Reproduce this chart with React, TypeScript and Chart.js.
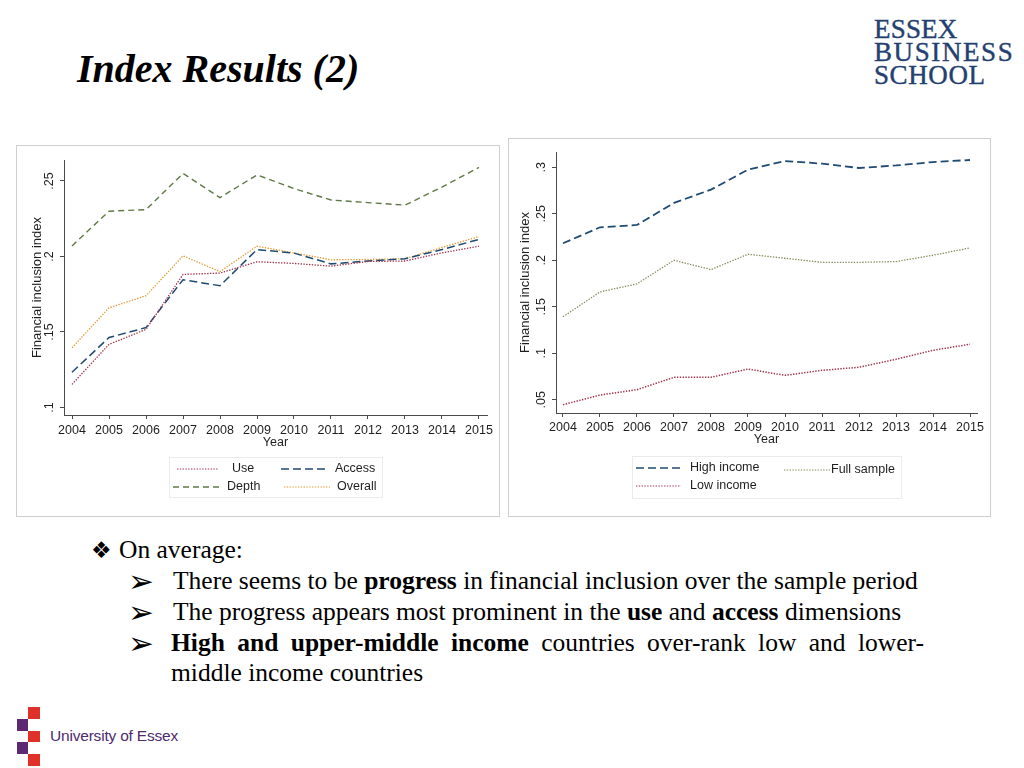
import React, { useEffect, useRef } from "react";
import { Chart, registerables } from "chart.js";

Chart.register(...registerables);

// ---------- DATA ----------
const years = [2004, 2005, 2006, 2007, 2008, 2009, 2010, 2011, 2012, 2013, 2014, 2015];

// Left chart: dimensions
const useIdx = [0.1153, 0.1418, 0.1517, 0.1881, 0.189, 0.1965, 0.1954, 0.1936, 0.1967, 0.197, 0.2024, 0.2068];
const accessIdx = [0.1233, 0.1463, 0.1529, 0.1846, 0.1806, 0.2046, 0.2022, 0.1951, 0.197, 0.1985, 0.2046, 0.2113];
const depthIdx = [0.207, 0.23, 0.231, 0.255, 0.239, 0.254, 0.245, 0.2374, 0.2357, 0.234, 0.246, 0.259];
const overallIdx = [0.1395, 0.166, 0.174, 0.2004, 0.19, 0.2068, 0.2024, 0.1978, 0.198, 0.1985, 0.206, 0.2132];

// Right chart: income groups
const highIncome = [0.2183, 0.2355, 0.238, 0.2617, 0.276, 0.2975, 0.3068, 0.304, 0.2993, 0.302, 0.3057, 0.3079];
const lowIncome = [0.0446, 0.055, 0.0608, 0.0741, 0.0741, 0.083, 0.0762, 0.0816, 0.0849, 0.0935, 0.1032, 0.1097];
const fullSample = [0.1392, 0.166, 0.1746, 0.2, 0.19, 0.2065, 0.2022, 0.1978, 0.1978, 0.1986, 0.2054, 0.2133];

const leftYTicks = [0.1, 0.15, 0.2, 0.25];
const leftYTickLabels = [".1", ".15", ".2", ".25"];
const rightYTicks = [0.05, 0.1, 0.15, 0.2, 0.25, 0.3];
const rightYTickLabels = [".05", ".1", ".15", ".2", ".25", ".3"];
const xTickLabels = years.map(String);

const yTitle = "Financial inclusion index";
const xTitle = "Year";

// ---------- STYLES ----------
const SANS = '"Liberation Sans", Arial, sans-serif';
const SERIF = '"Liberation Serif", "Times New Roman", serif';

const C_MAROON = "#a0344c";
const C_NAVY = "#1f4a72";
const C_GREEN = "#5f7a45";
const C_ORANGE = "#e39a35";
const C_OLIVE = "#8a8a5c";

const DOT = [1.4, 1.4];
const LONGDASH = [8, 4];
const DASH = [6, 4];

type LegendItem = { label: string; color: string; dash: number[]; width: number; x1: number; x2: number; y: number; tx: number };

const stataDecor = {
  id: "stataDecor",
  afterDraw(chart: any, _args: any, opts: any) {
    const ctx: CanvasRenderingContext2D = chart.ctx;
    const ca = chart.chartArea;
    const xs = chart.scales.x;
    const ys = chart.scales.y;
    ctx.save();
    ctx.fillStyle = "#1e1e1e";
    ctx.font = `12.5px ${SANS}`;
    // y tick labels (rotated)
    (opts.yTicks as number[]).forEach((v, i) => {
      const y = ys.getPixelForValue(v);
      ctx.save();
      ctx.translate(ca.left - opts.yLabelOffset, y);
      ctx.rotate(-Math.PI / 2);
      ctx.textAlign = "center";
      ctx.textBaseline = "middle";
      ctx.fillText(opts.yLabels[i], 0, 0);
      ctx.restore();
    });
    // y title
    ctx.save();
    ctx.font = `13px ${SANS}`;
    ctx.translate(ca.left - opts.yTitleOffset, (ca.top + ca.bottom) / 2);
    ctx.rotate(-Math.PI / 2);
    ctx.textAlign = "center";
    ctx.textBaseline = "middle";
    ctx.fillText(yTitle, 0, 0);
    ctx.restore();
    // x tick labels
    ctx.textAlign = "center";
    ctx.textBaseline = "middle";
    years.forEach((yr, i) => {
      ctx.fillText(xTickLabels[i], xs.getPixelForValue(yr), ca.bottom + opts.xLabelOffset);
    });
    // x title
    ctx.font = `12.5px ${SANS}`;
    ctx.fillText(xTitle, (ca.left + ca.right) / 2, ca.bottom + opts.xTitleOffset);
    // legend
    const b = opts.legendBox;
    ctx.strokeStyle = "#ebebeb";
    ctx.lineWidth = 1;
    ctx.strokeRect(b.x + 0.5, b.y + 0.5, b.w, b.h);
    (opts.legendItems as LegendItem[]).forEach((it) => {
      ctx.save();
      ctx.strokeStyle = it.color;
      ctx.lineWidth = it.width;
      ctx.setLineDash(it.dash);
      ctx.beginPath();
      ctx.moveTo(it.x1, it.y);
      ctx.lineTo(it.x2, it.y);
      ctx.stroke();
      ctx.restore();
      ctx.fillStyle = "#1e1e1e";
      ctx.textAlign = "left";
      ctx.textBaseline = "middle";
      ctx.font = `12.5px ${SANS}`;
      ctx.fillText(it.label, it.tx, it.y);
    });
    ctx.restore();
  },
};

function makeDataset(label: string, values: number[], color: string, dash: number[], width: number) {
  return {
    label,
    data: years.map((x, i) => ({ x, y: values[i] })),
    borderColor: color,
    borderWidth: width,
    borderDash: dash,
    pointRadius: 0,
    tension: 0,
    fill: false,
  };
}

function axisCommon(ticks: number[]) {
  return {
    type: "linear" as const,
    afterBuildTicks: (s: any) => {
      s.ticks = ticks.map((v) => ({ value: v }));
    },
    ticks: { display: false },
    grid: { display: true, drawOnChartArea: false, drawTicks: true, tickLength: 4, color: "#4a4a4a", lineWidth: 1 },
    border: { display: true, color: "#4a4a4a", width: 1 },
  };
}

function ChartCanvas(props: {
  width: number;
  height: number;
  datasets: any[];
  xMin: number;
  xMax: number;
  yMin: number;
  yMax: number;
  yTicks: number[];
  yLabels: string[];
  padTop: number;
  padRight: number;
  yAxisWidth: number;
  xAxisHeight: number;
  decor: any;
}) {
  const ref = useRef<HTMLCanvasElement>(null);
  useEffect(() => {
    if (!ref.current) return;
    const chart = new Chart(ref.current, {
      type: "line",
      data: { datasets: props.datasets },
      options: {
        animation: false,
        responsive: false,
        maintainAspectRatio: false,
        layout: { padding: { top: props.padTop, right: props.padRight, left: 0, bottom: 0 } },
        plugins: {
          legend: { display: false },
          tooltip: { enabled: false },
          stataDecor: { ...props.decor, yTicks: props.yTicks, yLabels: props.yLabels },
        } as any,
        scales: {
          x: {
            ...axisCommon(years),
            min: props.xMin,
            max: props.xMax,
            afterFit: (s: any) => {
              s.height = props.xAxisHeight;
            },
          },
          y: {
            ...axisCommon(props.yTicks),
            min: props.yMin,
            max: props.yMax,
            afterFit: (s: any) => {
              s.width = props.yAxisWidth;
            },
          },
        } as any,
      },
      plugins: [stataDecor as any],
    });
    return () => chart.destroy();
  }, []);
  return <canvas ref={ref} width={props.width} height={props.height} style={{ display: "block" }} />;
}

const leftDatasets = [
  makeDataset("Use", useIdx, C_MAROON, DOT, 1.3),
  makeDataset("Access", accessIdx, C_NAVY, LONGDASH, 1.5),
  makeDataset("Depth", depthIdx, C_GREEN, DASH, 1.4),
  makeDataset("Overall", overallIdx, C_ORANGE, DOT, 1.3),
];

const rightDatasets = [
  makeDataset("High income", highIncome, C_NAVY, LONGDASH, 1.8),
  makeDataset("Low income", lowIncome, C_MAROON, DOT, 1.5),
  makeDataset("Full sample", fullSample, C_OLIVE, DOT, 1.3),
];

const leftDecor = {
  yLabelOffset: 14,
  yTitleOffset: 27,
  xLabelOffset: 15.5,
  xTitleOffset: 27.5,
  legendBox: { x: 153, y: 312, w: 213, h: 40 },
  legendItems: [
    { label: "Use", color: C_MAROON, dash: DOT, width: 1.2, x1: 161, x2: 203, y: 324, tx: 216 },
    { label: "Access", color: C_NAVY, dash: LONGDASH, width: 1.4, x1: 265, x2: 312, y: 324, tx: 319 },
    { label: "Depth", color: C_GREEN, dash: DASH, width: 1.3, x1: 157, x2: 203, y: 342, tx: 211 },
    { label: "Overall", color: C_ORANGE, dash: DOT, width: 1.2, x1: 268, x2: 314, y: 342, tx: 321 },
  ],
};

const rightDecor = {
  yLabelOffset: 14.5,
  yTitleOffset: 31,
  xLabelOffset: 15,
  xTitleOffset: 27,
  legendBox: { x: 124, y: 318, w: 269, h: 42 },
  legendItems: [
    { label: "High income", color: C_NAVY, dash: LONGDASH, width: 1.5, x1: 128, x2: 173, y: 330, tx: 182 },
    { label: "Full sample", color: C_OLIVE, dash: DOT, width: 1.2, x1: 276, x2: 322, y: 332, tx: 323 },
    { label: "Low income", color: C_MAROON, dash: DOT, width: 1.2, x1: 128, x2: 173, y: 348, tx: 182 },
  ],
};

const abs = (l: number, t: number, extra: React.CSSProperties = {}): React.CSSProperties => ({
  position: "absolute",
  left: l,
  top: t,
  ...extra,
});

export default function App() {
  const FS = 25.5;
  const bodyFont: React.CSSProperties = { fontFamily: SERIF, fontSize: FS, lineHeight: "30px", color: "#000", whiteSpace: "nowrap" };
  const bulletTop = (baseline: number) => baseline - (15 - (1.107 * FS) / 2 + 0.891 * FS);
  const sym: React.CSSProperties = { position: "absolute", fontFamily: '"DejaVu Sans", sans-serif', color: "#000", whiteSpace: "nowrap" };
  const arrow = (centerY: number) => ({ ...sym, left: 128, top: centerY - 20, fontSize: 31, lineHeight: "40px" });
  return (
    <div style={{ position: "absolute", left: 0, top: 0, width: 1024, height: 768, background: "#fff", overflow: "hidden" }}>
      {/* Title */}
      <div style={abs(77, 86 - 41, { fontFamily: SERIF, fontSize: 40, fontWeight: "bold", fontStyle: "italic", lineHeight: "48px", whiteSpace: "nowrap" })}>
        Index Results (2)
      </div>

      {/* Essex Business School logo */}
      <div style={abs(874, 18, { fontFamily: SERIF, fontSize: 27, lineHeight: "23px", color: "#243f70", whiteSpace: "nowrap", WebkitTextStroke: "0.4px #243f70" })}>
        <div style={{ letterSpacing: 0.2 }}>ESSEX</div>
        <div style={{ letterSpacing: 1.6 }}>BUSINESS</div>
        <div style={{ letterSpacing: 0.6 }}>SCHOOL</div>
      </div>

      {/* Left chart */}
      <div style={abs(16, 145, { width: 484, height: 372 })}>
        <ChartCanvas
          width={484}
          height={372}
          datasets={leftDatasets}
          xMin={2004 - 8 / 37}
          xMax={2015 + 8 / 37}
          yMin={0.095}
          yMax={0.2639}
          yTicks={leftYTicks}
          yLabels={leftYTickLabels}
          padTop={15}
          padRight={13}
          yAxisWidth={48}
          xAxisHeight={102}
          decor={leftDecor}
        />
      </div>
      <div style={abs(16, 145, { width: 484, height: 372, boxSizing: "border-box", border: "1px solid #cfcfcf", pointerEvents: "none" })} />

      {/* Right chart */}
      <div style={abs(508, 138, { width: 483, height: 379 })}>
        <ChartCanvas
          width={483}
          height={379}
          datasets={rightDatasets}
          xMin={2004 - 7 / 37}
          xMax={2015 + 7 / 37}
          yMin={0.0357}
          yMax={0.3165}
          yTicks={rightYTicks}
          yLabels={rightYTickLabels}
          padTop={14}
          padRight={14}
          yAxisWidth={48}
          xAxisHeight={104}
          decor={rightDecor}
        />
      </div>
      <div style={abs(508, 138, { width: 483, height: 379, boxSizing: "border-box", border: "1px solid #cfcfcf", pointerEvents: "none" })} />

      {/* Bullets */}
      <div style={{ ...sym, left: 91, top: 550 - 15, fontSize: 23, lineHeight: "30px" }}>❖</div>
      <div style={abs(119, bulletTop(559), bodyFont)}>On average:</div>

      <div style={arrow(581)}>➢</div>
      <div style={abs(173, bulletTop(590), bodyFont)}>
        There seems to be <b>progress</b> in financial inclusion over the sample period
      </div>

      <div style={arrow(612)}>➢</div>
      <div style={abs(173, bulletTop(621), bodyFont)}>
        The progress appears most prominent in the <b>use</b> and <b>access</b> dimensions
      </div>

      <div style={arrow(643)}>➢</div>
      <div style={abs(171, bulletTop(652), { ...bodyFont, whiteSpace: "normal", width: 753, textAlign: "justify" })}>
        <b>High and upper-middle income</b> countries over-rank low and lower-middle income countries
      </div>

      {/* University of Essex logo */}
      <div style={abs(28, 707, { width: 12, height: 12, background: "#e0302a" })} />
      <div style={abs(17, 719, { width: 11, height: 12, background: "#5b2a72" })} />
      <div style={abs(28, 731, { width: 12, height: 11, background: "#e0302a" })} />
      <div style={abs(17, 742, { width: 11, height: 12, background: "#5b2a72" })} />
      <div style={abs(28, 754, { width: 12, height: 12, background: "#e0302a" })} />
      <div style={abs(50, 742 - 15, { fontFamily: SANS, fontSize: 15.5, lineHeight: "18px", color: "#4e2a6e", whiteSpace: "nowrap", letterSpacing: -0.2 })}>
        University of Essex
      </div>
    </div>
  );
}
